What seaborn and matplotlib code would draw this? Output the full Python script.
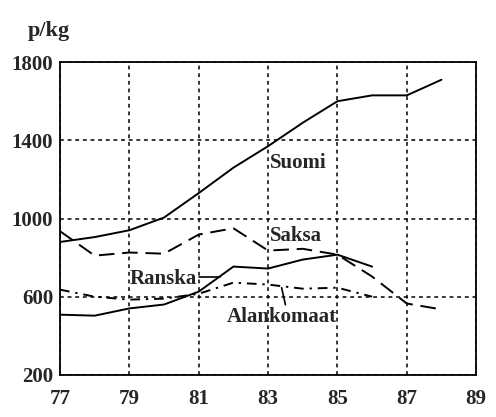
import matplotlib
matplotlib.use("Agg")
import matplotlib.pyplot as plt
import seaborn as sns

# ─────────────────────────────────────────────
# data (p/kg)
# ─────────────────────────────────────────────
years_suomi = [77, 78, 79, 80, 81, 82, 83, 84, 85, 86, 87, 88]
suomi = [880, 905, 940, 1005, 1130, 1260, 1370, 1490, 1600, 1630, 1630, 1710]

years_saksa = [77, 78, 79, 80, 81, 82, 83, 84, 85, 86, 87, 88]
saksa = [935, 810, 826, 820, 918, 950, 836, 845, 815, 703, 565, 535]

years_ranska = [77, 78, 79, 80, 81, 82, 83, 84, 85, 86]
ranska = [508, 503, 540, 560, 626, 754, 744, 790, 815, 754]

years_alank = [77, 78, 79, 80, 81, 82, 83, 84, 85, 86]
alankomaat = [636, 600, 585, 590, 615, 672, 662, 641, 646, 600]

x_ticks = [77, 79, 81, 83, 85, 87, 89]
y_ticks = [200, 600, 1000, 1400, 1800]

sns.set_style("white")
plt.rcParams["font.family"] = ["Liberation Serif", "DejaVu Serif"]

fig = plt.figure(figsize=(4.96, 4.17), dpi=100)
ax = fig.add_axes([0.121, 0.101, 0.839, 0.750])

sns.lineplot(x=years_suomi, y=suomi, ax=ax, color="black", lw=1.4)
sns.lineplot(x=years_saksa, y=saksa, ax=ax, color="black", lw=1.4)
ax.lines[-1].set_dashes([8, 4])
sns.lineplot(x=years_ranska, y=ranska, ax=ax, color="black", lw=1.4)
sns.lineplot(x=years_alank, y=alankomaat, ax=ax, color="black", lw=1.4)
ax.lines[-1].set_dashes([5, 3, 1.2, 3])

ax.set_xlim(77, 89)
ax.set_ylim(200, 1800)
ax.set_xticks(x_ticks)
ax.set_yticks(y_ticks)
ax.tick_params(axis="x", length=0, pad=10, labelsize=15)
ax.tick_params(axis="y", length=0, pad=5, labelsize=15)
for lab in ax.get_xticklabels() + ax.get_yticklabels():
    lab.set_fontweight("bold")

ax.grid(True, color="black", ls=(0, (2.5, 2.5)), lw=1.1)
for s in ax.spines.values():
    s.set_color("black")
    s.set_linewidth(1.3)

# series labels
lab_kw = dict(fontsize=15, fontweight="bold", ha="left", va="center")
ax.text(83.05, 1282, "Suomi", **lab_kw)
ax.text(83.05, 908, "Saksa", **lab_kw)
ax.text(79.0, 692, "Ranska", **lab_kw)
ax.text(81.8, 497, "Alankomaat", **lab_kw)
ax.plot([81.0, 81.6], [703, 703], color="black", lw=1.2)
ax.plot([83.39, 83.5], [646, 559], color="black", lw=1.2)

fig.text(0.056, 0.925, "p/kg", fontsize=16, fontweight="bold", ha="left", va="center")

fig.savefig("out.png", dpi=100)
